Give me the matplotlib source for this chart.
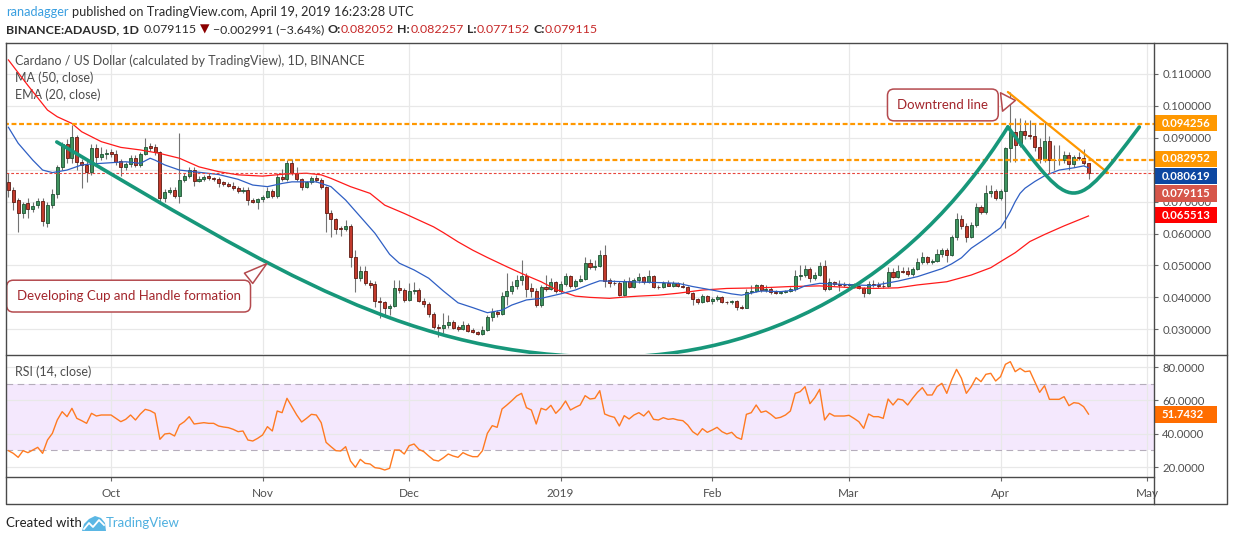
import numpy as np
import pandas as pd
import matplotlib
matplotlib.use('Agg')
import matplotlib.pyplot as plt
import matplotlib.dates as mdates
from matplotlib.path import Path
from matplotlib.patches import PathPatch, Rectangle, Polygon
from matplotlib.transforms import blended_transform_factory

plt.rcParams['font.family'] = ['Lato', 'DejaVu Sans']

# ---------------- data (daily ADA/USD, Binance) ----------------
start = '2018-09-10'
opens = [.0762, .0738, .0705, .0663, .0697, .0677, .0690, .0703, .0634, .0690,
         .0723, .0809, .0880, .0836, .0901, .0825, .0815, .0792, .0867, .0841,
         .0849, .0854, .0848, .0827, .0809, .0818, .0836, .0815, .0848, .0874,
         .0870, .0854, .0710, .0731, .0738, .0717, .0768, .0780, .0799, .0765,
         .0771, .0780, .0773, .0772, .0760, .0754, .0750, .0744, .0733, .0738,
         .0706, .0700, .0708, .0716, .0733, .0719, .0776, .0770, .0820, .0791,
         .0770, .0747, .0760, .0773, .0768, .0747, .0665, .0645, .0616, .0613,
         .0625, .0528, .0460, .0484, .0444, .0441, .0390, .0384, .0366, .0373,
         .0428, .0422, .0391, .0419, .0422, .0389, .0379, .0347, .0308, .0303,
         .0313, .0322, .0306, .0300, .0313, .0298, .0290, .0285, .0297, .0339,
         .0355, .0348, .0404, .0420, .0436, .0454, .0467, .0430, .0421, .0376,
         .0434, .0427, .0447, .0421, .0441, .0467, .0436, .0452, .0458, .0507,
         .0495, .0497, .0533, .0454, .0446, .0444, .0408, .0451, .0434, .0454,
         .0463, .0447, .0466, .0434, .0431, .0446, .0437, .0444, .0436, .0432,
         .0415, .0394, .0387, .0404, .0390, .0396, .0402, .0386, .0384, .0389,
         .0371, .0368, .0417, .0421, .0439, .0423, .0426, .0417, .0413, .0416,
         .0421, .0426, .0467, .0470, .0488, .0460, .0470, .0498, .0426, .0447,
         .0442, .0440, .0438, .0441, .0436, .0430, .0413, .0441, .0438, .0437,
         .0437, .0478, .0465, .0484, .0482, .0472, .0489, .0510, .0526, .0510,
         .0513, .0536, .0548, .0533, .0588, .0645, .0625, .0588, .0627, .0684,
         .0666, .0726, .0733, .0710, .0733, .0867, .0917, .0877, .0921, .0910,
         .0905, .0872, .0833, .0891, .0830, .0829, .0830, .0846, .0818, .0840,
         .0836, .082052]
highs = [.0789, .0745, .0712, .0700, .0710, .0700, .0712, .0712, .0700, .0740,
         .0815, .0888, .0895, .0940, .0910, .0835, .0830, .0880, .0880, .0870,
         .0865, .0865, .0862, .0835, .0825, .0845, .0845, .0855, .0898, .0885,
         .0880, .0860, .0740, .0745, .0745, .0914, .0790, .0810, .0810, .0780,
         .0785, .0790, .0778, .0778, .0765, .0760, .0760, .0748, .0745, .0745,
         .0712, .0712, .0722, .0745, .0740, .0790, .0801, .0830, .0833, .0810,
         .0775, .0765, .0780, .0785, .0775, .0750, .0675, .0650, .0625, .0643,
         .0630, .0549, .0498, .0498, .0456, .0450, .0400, .0390, .0380, .0454,
         .0456, .0430, .0446, .0449, .0428, .0398, .0385, .0355, .0318, .0350,
         .0345, .0330, .0312, .0325, .0320, .0305, .0294, .0310, .0345, .0366,
         .0360, .0418, .0477, .0450, .0470, .0517, .0475, .0445, .0428, .0440,
         .0470, .0460, .0452, .0450, .0477, .0470, .0458, .0470, .0528, .0520,
         .0517, .0550, .0564, .0460, .0455, .0450, .0458, .0465, .0460, .0475,
         .0468, .0486, .0470, .0440, .0452, .0455, .0450, .0448, .0449, .0436,
         .0418, .0398, .0410, .0408, .0402, .0406, .0405, .0390, .0392, .0392,
         .0375, .0425, .0440, .0442, .0442, .0440, .0432, .0422, .0420, .0424,
         .0432, .0486, .0501, .0500, .0496, .0480, .0512, .0517, .0460, .0452,
         .0455, .0448, .0446, .0444, .0440, .0433, .0450, .0454, .0447, .0450,
         .0495, .0491, .0502, .0496, .0496, .0495, .0522, .0543, .0530, .0520,
         .0551, .0555, .0555, .0595, .0663, .0659, .0632, .0635, .0695, .0690,
         .0752, .0752, .0740, .0740, .0870, .1045, .0961, .0961, .0955, .0955,
         .0945, .0898, .0951, .0905, .0877, .0877, .0860, .0855, .0845, .0855,
         .0865, .082257]
lows = [.0713, .0674, .0606, .0650, .0650, .0668, .0680, .0623, .0621, .0680,
        .0710, .0800, .0820, .0820, .0800, .0742, .0762, .0785, .0820, .0830,
        .0835, .0840, .0815, .0781, .0800, .0810, .0810, .0810, .0845, .0860,
        .0845, .0700, .0700, .0725, .0710, .0695, .0760, .0775, .0750, .0760,
        .0765, .0768, .0766, .0745, .0748, .0745, .0735, .0728, .0728, .0690,
        .0695, .0677, .0700, .0712, .0712, .0712, .0765, .0765, .0785, .0765,
        .0738, .0742, .0755, .0762, .0740, .0606, .0588, .0600, .0592, .0608,
        .0496, .0418, .0450, .0440, .0430, .0371, .0335, .0345, .0345, .0370,
        .0415, .0385, .0388, .0410, .0385, .0370, .0340, .0300, .0277, .0287,
        .0305, .0300, .0295, .0297, .0292, .0287, .0282, .0283, .0295, .0325,
        .0340, .0345, .0376, .0410, .0425, .0440, .0402, .0400, .0370, .0370,
        .0420, .0422, .0415, .0415, .0436, .0430, .0430, .0448, .0455, .0490,
        .0485, .0495, .0434, .0434, .0440, .0405, .0405, .0430, .0430, .0445,
        .0442, .0445, .0430, .0425, .0428, .0435, .0432, .0432, .0430, .0412,
        .0376, .0380, .0383, .0385, .0380, .0390, .0383, .0380, .0380, .0360,
        .0364, .0366, .0412, .0418, .0418, .0418, .0412, .0410, .0410, .0413,
        .0418, .0420, .0455, .0465, .0449, .0455, .0468, .0420, .0422, .0435,
        .0421, .0432, .0434, .0430, .0426, .0402, .0410, .0432, .0430, .0428,
        .0433, .0460, .0460, .0475, .0468, .0468, .0485, .0505, .0505, .0505,
        .0510, .0528, .0512, .0530, .0580, .0615, .0575, .0585, .0620, .0660,
        .0660, .0715, .0705, .0705, .0616, .0825, .0825, .0870, .0895, .0895,
        .0860, .0820, .0825, .0789, .0800, .0815, .0820, .0800, .0810, .0830,
        .0815, .077152]
closes = [.0738, .0700, .0663, .0694, .0677, .0687, .0703, .0639, .0691, .0723,
          .0809, .0880, .0836, .0901, .0825, .0815, .0792, .0867, .0841, .0849,
          .0852, .0848, .0823, .0809, .0818, .0836, .0815, .0848, .0872, .0869,
          .0854, .0710, .0731, .0738, .0717, .0768, .0780, .0799, .0765, .0771,
          .0778, .0773, .0772, .0759, .0754, .0750, .0742, .0733, .0738, .0704,
          .0700, .0708, .0716, .0733, .0719, .0776, .0770, .0820, .0791, .0770,
          .0747, .0760, .0773, .0768, .0747, .0665, .0645, .0615, .0613, .0625,
          .0528, .0460, .0484, .0444, .0440, .0390, .0384, .0366, .0373, .0428,
          .0422, .0391, .0419, .0422, .0389, .0379, .0347, .0308, .0303, .0313,
          .0322, .0305, .0300, .0313, .0295, .0290, .0285, .0297, .0339, .0355,
          .0348, .0404, .0420, .0436, .0454, .0467, .0427, .0421, .0376, .0434,
          .0427, .0447, .0421, .0441, .0467, .0436, .0452, .0458, .0507, .0495,
          .0497, .0533, .0452, .0446, .0444, .0408, .0451, .0434, .0454, .0463,
          .0447, .0466, .0434, .0431, .0446, .0437, .0444, .0436, .0432, .0415,
          .0394, .0387, .0404, .0390, .0396, .0402, .0386, .0384, .0389, .0371,
          .0368, .0417, .0421, .0439, .0423, .0426, .0417, .0413, .0416, .0421,
          .0426, .0467, .0470, .0488, .0460, .0470, .0498, .0426, .0447, .0442,
          .0440, .0438, .0441, .0434, .0430, .0413, .0441, .0438, .0437, .0436,
          .0478, .0465, .0482, .0481, .0472, .0489, .0510, .0526, .0510, .0513,
          .0536, .0548, .0533, .0588, .0645, .0625, .0588, .0627, .0684, .0666,
          .0726, .0733, .0710, .0733, .0867, .0917, .0877, .0921, .0908, .0905,
          .0872, .0833, .0891, .0830, .0829, .0830, .0846, .0818, .0840, .0836,
          .0822, .079115]
rsi = [29.8, 28.2, 25.8, 29.8, 28.6, 30.2, 31.8, 28.2, 36.2, 40.2,
       48.2, 53.2, 50.2, 55.2, 49.2, 47.8, 46.2, 52.2, 50.6, 51.2,
       51.2, 51.2, 49.2, 47.2, 48.6, 51.2, 48.2, 51.8, 54.6, 53.8,
       52.2, 36.6, 39.8, 40.2, 38.6, 45.2, 47.2, 50.2, 45.8, 46.2,
       46.6, 46.2, 46.2, 44.6, 44.0, 43.6, 42.6, 41.2, 41.6, 36.2,
       35.6, 37.2, 39.2, 44.2, 41.6, 53.6, 52.6, 61.2, 56.2, 51.2,
       47.0, 49.2, 51.6, 51.2, 46.6, 34.8, 32.2, 29.8, 29.6, 32.2,
       23.6, 19.8, 24.6, 22.2, 21.8, 19.6, 19.2, 18.2, 19.2, 30.2,
       30.2, 27.8, 32.8, 33.8, 30.6, 29.2, 26.6, 24.2, 23.6, 25.5,
       27.8, 26.6, 25.8, 28.6, 27.2, 26.2, 26.2, 29.8, 40.2, 44.8,
       43.8, 54.8, 57.2, 59.8, 62.6, 64.2, 55.6, 54.2, 45.8, 55.2,
       54.2, 57.0, 52.2, 55.2, 59.6, 54.2, 55.8, 57.2, 62.8, 60.8,
       61.2, 65.8, 51.8, 50.6, 49.8, 44.6, 50.8, 48.8, 51.2, 52.6,
       50.6, 53.6, 48.6, 48.2, 49.6, 48.6, 49.0, 48.2, 47.8, 45.2,
       41.2, 39.2, 43.0, 40.8, 42.2, 43.8, 41.2, 39.8, 40.8, 37.8,
       36.6, 51.6, 52.6, 57.2, 52.8, 53.6, 51.6, 49.2, 49.8, 51.2,
       53.6, 64.2, 65.2, 68.2, 58.0, 61.6, 66.6, 48.2, 52.2, 50.6,
       50.6, 50.6, 51.0, 49.2, 47.2, 43.2, 51.8, 50.2, 50.2, 49.2,
       60.8, 57.2, 60.8, 60.2, 57.2, 61.2, 64.8, 67.6, 63.2, 63.2,
       68.2, 70.2, 64.2, 72.2, 78.6, 73.2, 64.2, 68.2, 73.6, 71.2,
       75.6, 76.2, 71.6, 74.2, 81.6, 83.2, 77.2, 79.2, 77.2, 77.6,
       71.2, 64.8, 68.8, 60.6, 60.6, 60.6, 62.2, 56.8, 58.6, 58.2,
       56.2, 51.7432]

# moving averages (days after start, price)
ma50_days = [0, 4, 8, 10, 13, 15, 19, 23, 27, 31, 35, 39, 43, 47, 52, 57, 61, 64, 66,
             70, 74, 77, 81, 84, 87, 89, 92, 95, 98, 102, 105, 109, 112, 116, 119,
             123, 126, 129, 133, 137, 142, 147, 154, 160, 166, 172, 177, 182, 186,
             192, 197, 201, 203, 206, 209, 212, 216, 221]
ma50_vals = [.1144, .1064, .0987, .0966, .0945, .0919, .0888, .0870, .0862, .0851,
             .0836, .0809, .0794, .0784, .0780, .0787, .0789, .0784, .0773, .0747,
             .0726, .0689, .0663, .0642, .0621, .0603, .0574, .0548, .0525, .0496,
             .0475, .0449, .0425, .0404, .0400, .0397, .0401, .0404, .0407, .0413,
             .0423, .0428, .0430, .0434, .0436, .0431, .0428, .0430, .0439, .0449,
             .0470, .0493, .0512, .0540, .0575, .0597, .0624, .065513]
ema20_days = [0, 2, 5, 7, 9, 12, 15, 17, 21, 24, 27, 29, 30, 32, 35, 39, 43, 47, 50,
              53, 56, 58, 63, 66, 69, 72, 75, 78, 80, 83, 86, 89, 92, 95, 98, 101,
              103, 106, 109, 113, 116, 119, 121, 124, 129, 134, 137, 140, 144, 148,
              150, 154, 158, 161, 163, 166, 169, 173, 177, 182, 186, 191, 193, 195,
              197, 200, 203, 204, 205, 206, 207, 208, 210, 212, 215, 218, 220, 221]
ema20_vals = [.0933, .0883, .0830, .0799, .0791, .0799, .0815, .0818, .0822, .0825,
              .0820, .0836, .0830, .0815, .0799, .0792, .0785, .0770, .0752, .0747,
              .0757, .0762, .0762, .0747, .0705, .0653, .0601, .0535, .0507, .0486,
              .0460, .0420, .0383, .0368, .0352, .0360, .0376, .0392, .0397, .0411,
              .0423, .0441, .0452, .0450, .0448, .0446, .0444, .0434, .0423, .0411,
              .0407, .0420, .0418, .0423, .0436, .0444, .0442, .0439, .0437, .0451,
              .0465, .0490, .0505, .0524, .0554, .0585, .0618, .0642, .0669, .0700,
              .0726, .0742, .0763, .0781, .0799, .0806, .0812, .080619]

# drawings: horizontal levels, downtrend line, cup & handle (bezier control points)
levels = [0.094256, 0.082952]
level_start_days = [-1, 41.7]
last_price = 0.079115
trend_days = [204.5, 225.0]
trend_prices = [0.10436, 0.07898]
cup_days = [9.9, 55.0, 82.2, 123.1, 153.8, 184.1, 204.5]
cup_prices = [0.0887, 0.0480, 0.0213, 0.0213, 0.0213, 0.0433, 0.0934]
handle_days = [204.5, 218.1, 217.8, 231.4]
handle_prices = [0.0934, 0.0658, 0.0658, 0.0934]

months = ['2018-10-01', '2018-11-01', '2018-12-01', '2019-01-01',
          '2019-02-01', '2019-03-01', '2019-04-01', '2019-05-01']
month_labels = ['Oct', 'Nov', 'Dec', '2019', 'Feb', 'Mar', 'Apr', 'May']
price_ticks = [0.03, 0.04, 0.05, 0.06, 0.07, 0.08, 0.09, 0.10, 0.11]
rsi_ticks = [20, 40, 60, 80]

# price scale badges: text, centre position on the scale, colour
badge_text = ['0.094256', '0.082952', '0.080619', '0.079115', '0.065513']
badge_pos = [0.0946, 0.0834, 0.0780, 0.0726, 0.0658]
badge_col = ['#ff9800', '#ff9800', '#0d47a1', '#d6564a', '#ff0000']

# ---------------- figure ----------------
W, H = 1234, 541
fig = plt.figure(figsize=(W / 100, H / 100), dpi=100)
fig.patch.set_facecolor('white')

base = mdates.date2num(pd.Timestamp(start))
n = len(closes)
x = base + np.arange(n)
o = np.array(opens); hi = np.array(highs); lo = np.array(lows); c = np.array(closes)

ax = fig.add_axes([6 / W, (H - 354) / H, 1148 / W, 311 / H])
ax_r = fig.add_axes([6 / W, (H - 477) / H, 1148 / W, 122 / H])
xlim = (base - 0.49, base + 234.4)
mticks = [mdates.date2num(pd.Timestamp(m)) for m in months]
grid_c = '#e8e8e8'
lab_c = '#505050'
for a in (ax, ax_r):
    a.set_xlim(*xlim)
    a.patch.set_visible(False)
    for s in a.spines.values():
        s.set_visible(False)
    a.set_xticks(mticks)
    a.yaxis.tick_right()
    a.grid(True, color=grid_c, lw=0.9)
    a.set_axisbelow(True)
    a.tick_params(axis='y', length=3, width=0.8, color='#666', pad=3,
                  labelsize=8.2, labelcolor=lab_c)

ax.set_ylim(0.02226, 0.11971)
ax.set_yticks(price_ticks)
# 0.080000 sits fully under the price badges, so its label is left empty
ax.set_yticklabels(['' if abs(v - 0.08) < 1e-9 else '%.6f' % v for v in price_ticks])
ax.tick_params(axis='x', length=0, labelbottom=False)

# candles
up = c >= o
bot = np.minimum(o, c)
hgt = np.maximum(np.abs(c - o), 0.00012)
ax.vlines(x, lo, hi, color='#737373', lw=0.8, zorder=2)
ax.bar(x[up], hgt[up], bottom=bot[up], width=0.62, color='#3f935f',
       edgecolor='#1f5233', linewidth=0.6, zorder=3)
ax.bar(x[~up], hgt[~up], bottom=bot[~up], width=0.62, color='#c23a2c',
       edgecolor='#5e1a12', linewidth=0.6, zorder=3)

ax.plot(base + np.array(ma50_days), ma50_vals, color='#ff1a1a', lw=0.9, zorder=4)
ax.plot(base + np.array(ema20_days), ema20_vals, color='#2f5fc4', lw=0.9, zorder=4)

# horizontal levels and last price
for lv, d0 in zip(levels, level_start_days):
    ax.hlines(lv, base + d0, xlim[1], color='#ff9800', lw=1.6,
              linestyles=[(0, (2.2, 1.2))], zorder=5)
ax.axhline(last_price, color='#e8453c', lw=0.8, ls=(0, (2.5, 1.8)), zorder=5)

# downtrend line
ax.plot(base + np.array(trend_days), trend_prices, color='#ff9800', lw=1.6,
        solid_capstyle='round', zorder=6)

# cup and handle
cup_verts = list(zip(base + np.array(cup_days), cup_prices))
cup = PathPatch(Path(cup_verts, [Path.MOVETO] + [Path.CURVE4] * 6),
                fill=False, ec='#17977a', lw=2.6, zorder=6, capstyle='round')
ax.add_patch(cup)
hd_verts = list(zip(base + np.array(handle_days), handle_prices))
handle = PathPatch(Path(hd_verts, [Path.MOVETO] + [Path.CURVE4] * 3),
                   fill=False, ec='#17977a', lw=2.6, zorder=6, capstyle='round')
ax.add_patch(handle)

# callouts
co_txt = '#a3262c'
co_edge = '#b44a4e'
ax.annotate('Developing Cup and Handle formation', xy=(base + 53.3, 0.0511),
            xytext=(base + 24.6, 0.0404), ha='center', va='center',
            fontsize=9.5, color=co_txt, zorder=8,
            bbox=dict(boxstyle='round,pad=0.75,rounding_size=0.5', fc='white',
                      ec=co_edge, lw=1.1),
            arrowprops=dict(arrowstyle='wedge,tail_width=1.0,shrink_factor=0.5',
                            fc='white', ec=co_edge, lw=1.1, relpos=(0.96, 0.85)))
ax.annotate('Downtrend line', xy=(base + 206.6, 0.1018),
            xytext=(base + 191.2, 0.1003), ha='center', va='center',
            fontsize=9.5, color=co_txt, zorder=8,
            bbox=dict(boxstyle='round,pad=0.75,rounding_size=0.5', fc='white',
                      ec=co_edge, lw=1.1),
            arrowprops=dict(arrowstyle='wedge,tail_width=1.4,shrink_factor=0.5',
                            fc='white', ec=co_edge, lw=1.1, relpos=(0.97, 0.6)))

# legend-style labels
ax.text(0.0078, 0.942, 'Cardano / US Dollar (calculated by TradingView), 1D, BINANCE',
        transform=ax.transAxes, fontsize=9, color='#4d4d4d', va='center')
ax.text(0.0078, 0.887, 'MA (50, close)', transform=ax.transAxes, fontsize=9,
        color='#4d4d4d', va='center')
ax.text(0.0078, 0.833, 'EMA (20, close)', transform=ax.transAxes, fontsize=9,
        color='#4d4d4d', va='center')

# price scale badges
tb = blended_transform_factory(ax.transAxes, ax.transData)
bw = 63 / 1148
for t, yv, col in zip(badge_text, badge_pos, badge_col):
    ax.add_patch(Rectangle((1.0, yv - 0.0026), bw, 0.0052, transform=tb,
                           fc=col, lw=0, clip_on=False, zorder=10))
    ax.text(1.0 + 8 / 1148, yv, t, transform=tb, color='white', fontsize=8.2,
            fontweight='bold', va='center', ha='left', clip_on=False, zorder=11)

# ---------------- RSI ----------------
ax_r.set_ylim(14.0, 87.2)
ax_r.set_yticks(rsi_ticks)
ax_r.set_yticklabels(['%.4f' % v for v in rsi_ticks])
ax_r.set_xticklabels(month_labels)
ax_r.tick_params(axis='x', length=3, width=0.8, color='#666', pad=5,
                 labelsize=8.5, labelcolor=lab_c)
ax_r.axhspan(30, 70, color='#f4e8fd', lw=0, zorder=0.5)
for lv in (30, 70):
    ax_r.axhline(lv, color='#b5adbb', lw=0.8, ls=(0, (6, 4)), zorder=1)
ax_r.plot(x, rsi, color='#ff7a21', lw=1.0, zorder=3)
ax_r.text(0.0078, 0.861, 'RSI (14, close)', transform=ax_r.transAxes, fontsize=9,
          color='#4d4d4d', va='center')
tr = blended_transform_factory(ax_r.transAxes, ax_r.transData)
ax_r.add_patch(Rectangle((1.0, rsi[-1] - 0.2 - 5.1), bw, 10.2, transform=tr,
                         fc='#ff6d00', lw=0, clip_on=False, zorder=10))
ax_r.text(1.0 + 8 / 1148, rsi[-1] - 0.2, '%.4f' % rsi[-1], transform=tr,
          color='white', fontsize=8.2, fontweight='bold', va='center',
          clip_on=False, zorder=11)

# ---------------- frame, header, footer (pixel space) ----------------
fr = fig.add_axes([0, 0, 1, 1], zorder=20)
fr.set_xlim(0, W)
fr.set_ylim(H, 0)
fr.axis('off')
fc = '#4a4a4a'
fr.plot([6, 1227, 1227, 6, 6], [43, 43, 504, 504, 43], color=fc, lw=1.0)
fr.plot([1154, 1154], [43, 504], color=fc, lw=1.0)
fr.plot([6, 1227], [354.5, 354.5], color=fc, lw=1.0)
fr.plot([6, 1154], [477, 477], color=fc, lw=1.0)

renderer = fig.canvas.get_renderer()


def runs(xp, yp, parts, size=9.2):
    for txt, col, wt, gap in parts:
        t = fr.text(xp, yp, txt, color=col, fontweight=wt, fontsize=size,
                    va='center', ha='left')
        xp += t.get_window_extent(renderer=renderer).width + gap


dark = '#2b2b2b'
red = '#c62828'
runs(6, 12, [('ranadagger', '#3a9fe0', 'normal', 3.5),
             ('published on TradingView.com, April 19, 2019 16:23:28 UTC', dark, 'normal', 0)])
runs(6, 29.5, [('BINANCE:ADAUSD, 1D', dark, 'bold', 5),
               ('0.079115', dark, 'normal', 3),
               ('\u25bc', '#8b0000', 'normal', 3),
               ('\u22120.002991 (\u22123.64%)', dark, 'normal', 3.5),
               ('O:', dark, 'bold', 0), ('0.082052', red, 'normal', 3.5),
               ('H:', dark, 'bold', 0), ('0.082257', red, 'normal', 3.5),
               ('L:', dark, 'bold', 0), ('0.077152', red, 'normal', 3.5),
               ('C:', dark, 'bold', 0), ('0.079115', red, 'normal', 0)], size=8.9)

runs(6, 523, [('Created with', '#222222', 'normal', 0)], size=9.5)
fr.add_patch(Polygon([(82, 531), (84, 524), (89, 519), (95, 516), (101, 518),
                      (105, 523), (106, 531)], closed=True, fc='#5bb7e4', lw=0))
fr.plot([84, 89, 93, 99, 104], [529, 523, 527, 520, 525], color='white', lw=1.3)
fr.text(106, 523, 'TradingView', color='#4fb0e0', fontsize=9.5, va='center')

fig.savefig('out.png', dpi=100)
